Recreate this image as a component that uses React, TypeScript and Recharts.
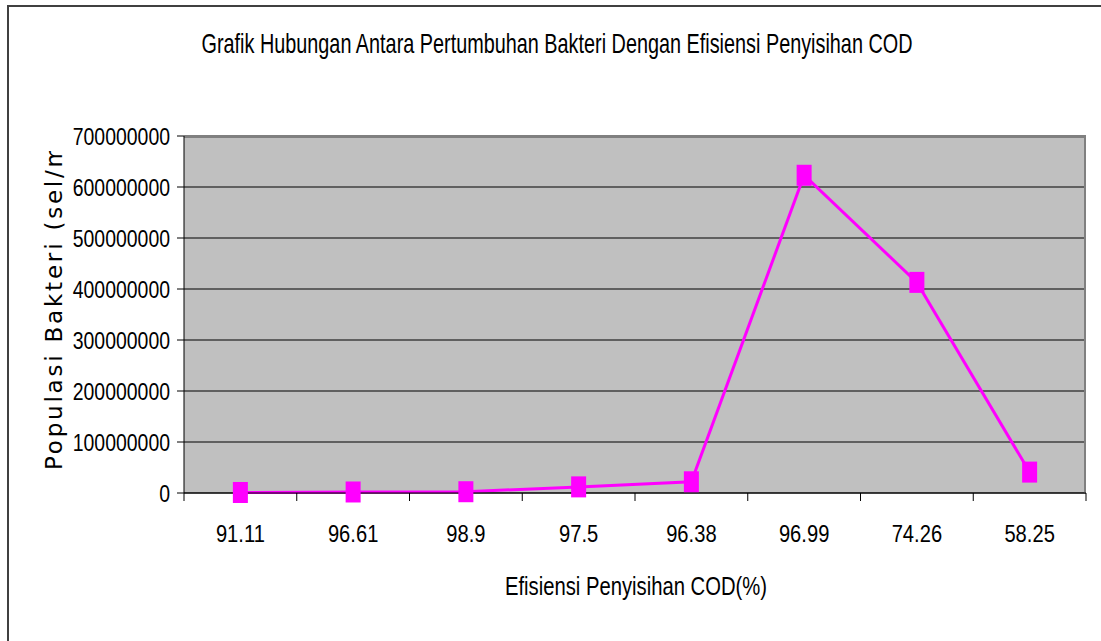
import React from 'react'
import { LineChart, Line, XAxis, YAxis, CartesianGrid, Label } from 'recharts'

// Efisiensi penyisihan COD (%) - urutan sesuai grafik asli
const efisiensi = ['91.11', '96.61', '98.9', '97.5', '96.38', '96.99', '74.26', '58.25']
// Populasi bakteri (sel/ml)
const populasi = [1000000, 2000000, 2500000, 12000000, 22000000, 623000000, 413000000, 41000000]
const yTicks = [0, 100000000, 200000000, 300000000, 400000000, 500000000, 600000000, 700000000]

const data = efisiensi.map((e, i) => ({ efisiensi: e, populasi: populasi[i] }))

const FONT = '"Liberation Sans", Arial, sans-serif'
const HALF = 902 / 8 / 2

const XTick = (props: any) => {
    const { x, y, payload, index } = props
    const last = index === efisiensi.length - 1
    return (
        <g>
            <line x1={x - HALF} x2={x - HALF} y1={y} y2={y + 8} stroke="#000" />
            {last && <line x1={x + HALF} x2={x + HALF} y1={y} y2={y + 8} stroke="#000" />}
            <text
                transform={`translate(${x},${y + 49}) scale(0.84,1)`}
                textAnchor="middle"
                fontFamily={FONT}
                fontSize={24}
                fill="#000"
            >
                {payload.value}
            </text>
        </g>
    )
}

const YTick = (props: any) => {
    const { x, y, payload } = props
    return (
        <text
            transform={`translate(${x},${y + 8.5}) scale(0.81,1)`}
            textAnchor="end"
            fontFamily={FONT}
            fontSize={24}
            fill="#000"
        >
            {payload.value}
        </text>
    )
}

const SquareDot = (props: any) => {
    const { cx, cy, index } = props
    if (cx == null || cy == null) return null
    return <rect key={`dot-${index}`} x={cx - 7.5} y={cy - 10.5} width={15} height={21} fill="#FF00FF" />
}

const App = () => {
    return (
        <div style={{ position: 'fixed', left: 0, top: 0, width: 1101, height: 641, overflow: 'hidden', background: '#fff' }}>
            <div
                style={{
                    position: 'absolute',
                    left: 7,
                    top: 5,
                    width: 1200,
                    height: 800,
                    border: '2px solid #404040',
                    boxSizing: 'border-box',
                }}
            />
            <div style={{ position: 'absolute', left: 0, top: 0 }}>
                <LineChart
                    width={1101}
                    height={641}
                    data={data}
                    margin={{ top: 136, right: 15, bottom: 0, left: 0 }}
                >
                    <CartesianGrid vertical={false} stroke="#000" fill="#C0C0C0" fillOpacity={1} />
                    {/* plot area border, gray on top and right */}
                    <CartesianGrid
                        horizontalPoints={[137]}
                        verticalPoints={[1085]}
                        stroke="#808080"
                        strokeWidth={2}
                    />
                    <XAxis
                        dataKey="efisiensi"
                        height={148}
                        stroke="#000"
                        tickLine={false}
                        tickSize={0}
                        tickMargin={0}
                        tick={<XTick />}
                        interval={0}
                        padding={{ left: HALF, right: HALF }}
                    >
                        <Label
                            content={() => (
                                <text
                                    x={636}
                                    y={595}
                                    textAnchor="middle"
                                    fontFamily={FONT}
                                    fontSize={25}
                                    textLength={262}
                                    lengthAdjust="spacingAndGlyphs"
                                    fill="#000"
                                >
                                    Efisiensi Penyisihan COD(%)
                                </text>
                            )}
                        />
                    </XAxis>
                    <YAxis
                        width={184}
                        domain={[0, 700000000]}
                        ticks={yTicks}
                        stroke="#000"
                        tickSize={7}
                        tickMargin={7}
                        tick={<YTick />}
                        interval={0}
                    >
                        <Label
                            content={() => (
                                <g>
                                    <defs>
                                        <clipPath id="ylab-clip">
                                            <rect x={0} y={151} width={120} height={400} />
                                        </clipPath>
                                    </defs>
                                    <g clipPath="url(#ylab-clip)">
                                        <text
                                            transform="translate(62,470) rotate(-90)"
                                            fontFamily='"DejaVu Sans", sans-serif'
                                            fontSize={23}
                                            textLength={325}
                                            lengthAdjust="spacing"
                                            fill="#000"
                                        >
                                            Populasi Bakteri (sel/m
                                        </text>
                                    </g>
                                </g>
                            )}
                        />
                    </YAxis>
                    <Line
                        type="linear"
                        dataKey="populasi"
                        stroke="#FF00FF"
                        strokeWidth={3}
                        dot={<SquareDot />}
                        activeDot={false}
                        isAnimationActive={false}
                    />
                </LineChart>
            </div>
            <svg style={{ position: 'absolute', left: 0, top: 0 }} width={1101} height={641}>
                <text
                    x={557}
                    y={53}
                    textAnchor="middle"
                    fontFamily={FONT}
                    fontSize={28}
                    textLength={711}
                    lengthAdjust="spacingAndGlyphs"
                    fill="#000"
                >
                    Grafik Hubungan Antara Pertumbuhan Bakteri Dengan Efisiensi Penyisihan COD
                </text>
            </svg>
        </div>
    )
}

export default App
